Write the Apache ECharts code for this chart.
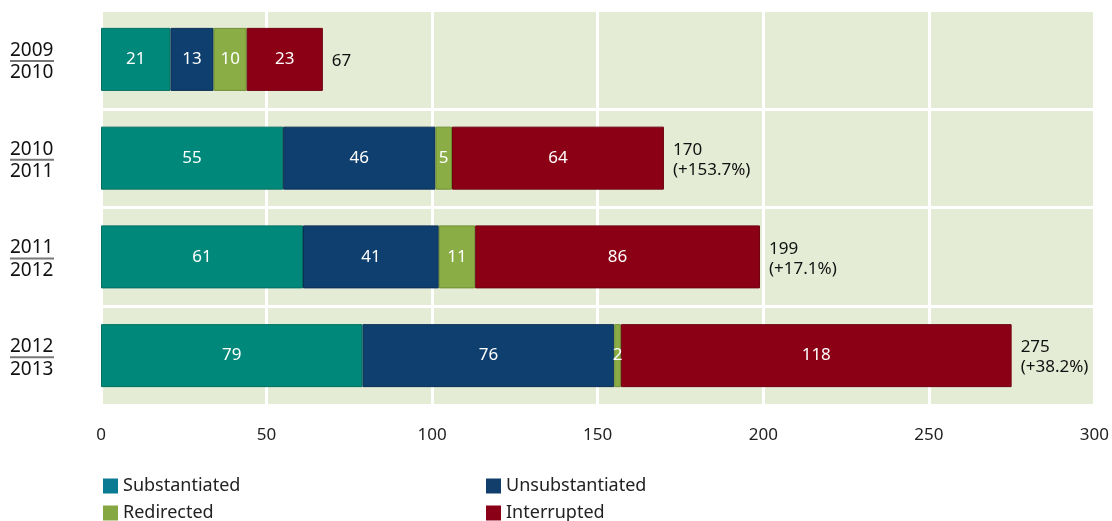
<!DOCTYPE html>
<html>
<head>
<meta charset="utf-8">
<style>
  html, body { margin: 0; padding: 0; background: #fff; }
  #chart { width: 1112px; height: 521px; }
</style>
<script src="https://cdn.jsdelivr.net/npm/echarts@6/dist/echarts.min.js"></script>
</head>
<body>
<div id="chart"></div>
<script>
// Fiscal years (start / end) shown as stacked fractions on the category axis
const yearStart = ['2009', '2010', '2011', '2012'];
const yearEnd = ['2010', '2011', '2012', '2013'];

const substantiated = [21, 55, 61, 79];
const unsubstantiated = [13, 46, 41, 76];
const redirected = [10, 5, 11, 2];
const interrupted = [23, 64, 86, 118];

const totals = [67, 170, 199, 275];
const changes = ['', '+153.7%', '+17.1%', '+38.2%'];

const xTicks = [0, 50, 100, 150, 200, 250, 300];

const FONT = '"Noto Sans", "Open Sans", sans-serif';

const categories = yearStart.map((s, i) => s + '/' + yearEnd[i]);

const colors = {
  Substantiated: '#00897a',
  Unsubstantiated: '#0f3f6e',
  Redirected: '#8aae45',
  Interrupted: '#8c0016'
};
const edges = {
  Substantiated: '#006e61',
  Unsubstantiated: '#0a2f55',
  Redirected: '#6f8f33',
  Interrupted: '#6e0010'
};
const legendColors = {
  Substantiated: '#0b7b93',
  Unsubstantiated: '#123e6b',
  Redirected: '#86a842',
  Interrupted: '#8a0016'
};

function segment(name, values) {
  return {
    name: name,
    type: 'bar',
    stack: 'total',
    barWidth: 63,
    data: values,
    itemStyle: { color: colors[name], borderColor: edges[name], borderWidth: 1 },
    label: {
      show: true,
      position: 'inside',
      color: '#fff',
      fontFamily: FONT,
      fontSize: 17
    }
  };
}

function legendAt(name, left, top) {
  return {
    data: [{ name: name, itemStyle: { color: legendColors[name], borderWidth: 0 } }],
    left: left,
    top: top,
    padding: 0,
    itemWidth: 15,
    itemHeight: 15,
    itemGap: 6,
    icon: 'rect',
    selectedMode: false,
    textStyle: { fontFamily: FONT, fontSize: 18, color: '#222', padding: [0, 0, 0, 0] }
  };
}

const chart = echarts.init(document.getElementById('chart'));
chart.setOption({
  animation: false,
  backgroundColor: '#ffffff',
  grid: {
    left: 101,
    right: 17,
    top: 10,
    bottom: 116,
    show: true,
    backgroundColor: '#e5ecd6',
    borderWidth: 0
  },
  legend: [
    legendAt('Substantiated', 103, 477),
    legendAt('Unsubstantiated', 486, 477),
    legendAt('Redirected', 103, 504),
    legendAt('Interrupted', 486, 504)
  ],
  xAxis: {
    type: 'value',
    min: xTicks[0],
    max: xTicks[xTicks.length - 1],
    interval: 50,
    axisLine: { show: false },
    axisTick: { show: false },
    axisLabel: { color: '#222', fontFamily: FONT, fontSize: 17, margin: 22 },
    splitLine: { show: true, lineStyle: { color: '#ffffff', width: 3 } }
  },
  yAxis: {
    type: 'category',
    inverse: true,
    data: categories,
    axisLine: { show: false },
    axisTick: { show: false },
    splitLine: { show: true, lineStyle: { color: '#ffffff', width: 3 } },
    axisLabel: {
      align: 'left',
      margin: 91,
      padding: [6, 0, 0, 0],
      formatter: function (v, i) {
        return '{a|' + yearStart[i] + '}\n{rule|}\n{b|' + yearEnd[i] + '}';
      },
      rich: {
        a: { fontFamily: FONT, fontSize: 19, color: '#111', lineHeight: 19 },
        rule: { width: 44, height: 2, lineHeight: 2, backgroundColor: '#777' },
        b: { fontFamily: FONT, fontSize: 19, color: '#111', lineHeight: 22 }
      }
    }
  },
  series: [
    segment('Substantiated', substantiated),
    segment('Unsubstantiated', unsubstantiated),
    segment('Redirected', redirected),
    segment('Interrupted', interrupted),
    {
      name: 'Total',
      type: 'bar',
      stack: 'total',
      barWidth: 63,
      data: totals.map(() => 0),
      itemStyle: { color: 'transparent' },
      label: {
        show: true,
        position: 'right',
        distance: 9,
        offset: [0, 2],
        color: '#111',
        fontFamily: FONT,
        fontSize: 17,
        lineHeight: 20,
        align: 'left',
        formatter: function (p) {
          const i = p.dataIndex;
          return changes[i] ? totals[i] + '\n(' + changes[i] + ')' : String(totals[i]);
        }
      }
    }
  ]
});
</script>
</body>
</html>
